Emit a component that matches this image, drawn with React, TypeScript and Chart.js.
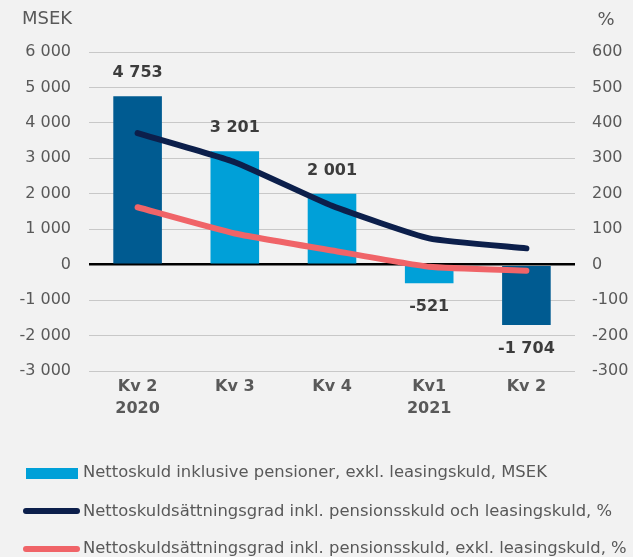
import React, { useEffect, useRef } from "react";
import { Chart, registerables } from "chart.js";

Chart.register(...registerables);

const categories: string[][] = [["Kv 2", "2020"], ["Kv 3"], ["Kv 4"], ["Kv1", "2021"], ["Kv 2"]];
const netDebt: number[] = [4753, 3201, 2001, -521, -1704];
const gearingInclLeasing: number[] = [371, 289, 166, 74, 46];
const gearingExclLeasing: number[] = [162, 88, 40, -6, -17];
const barColors: string[] = ["#005b91", "#00a0d8", "#00a0d8", "#00a0d8", "#005b91"];

const legendLabels: string[] = [
  "Nettoskuld inklusive pensioner, exkl. leasingskuld, MSEK",
  "Nettoskuldsättningsgrad inkl. pensionsskuld och leasingskuld, %",
  "Nettoskuldsättningsgrad inkl. pensionsskuld, exkl. leasingskuld, %",
];

const FONT = "'DejaVu Sans', sans-serif";
const LEGEND_FONT = "'DejaVu Sans', sans-serif";
const TEXT = "#595959";

const fmt = (v: number) => {
  const s = Math.abs(v).toString().replace(/\B(?=(\d{3})+(?!\d))/g, " ");
  return (v < 0 ? "-" : "") + s;
};

export default function App() {
  const ref = useRef<HTMLCanvasElement | null>(null);

  useEffect(() => {
    document.body.style.margin = "0";
    document.body.style.background = "#f2f2f2";
    if (!ref.current) return;

    const extraText = {
      id: "extraText",
      afterDatasetsDraw(chart: any) {
        const ctx = chart.ctx;
        ctx.save();
        const meta = chart.getDatasetMeta(2);
        ctx.font = `bold 16px ${FONT}`;
        ctx.fillStyle = "#3c3c3c";
        ctx.textAlign = "center";
        ctx.textBaseline = "middle";
        meta.data.forEach((el: any, i: number) => {
          const v = netDebt[i];
          const y = v >= 0 ? el.y - 23 : el.y + 24;
          ctx.fillText(fmt(v), el.x, y);
        });
        ctx.font = `18px ${FONT}`;
        ctx.fillStyle = TEXT;
        ctx.textAlign = "left";
        ctx.fillText("MSEK", 22, 19);
        ctx.textAlign = "center";
        ctx.fillText("%", 606, 20);
        ctx.restore();
      },
    };

    const chart = new Chart(ref.current, {
      type: "bar",
      data: {
        labels: categories as any,
        datasets: [
          {
            type: "line",
            label: legendLabels[1],
            data: gearingInclLeasing,
            yAxisID: "y1",
            borderColor: "#0c1f4b",
            borderWidth: 6,
            pointRadius: 0,
            tension: 0.15,
            borderCapStyle: "round",
            borderJoinStyle: "round",
            order: 0,
          } as any,
          {
            type: "line",
            label: legendLabels[2],
            data: gearingExclLeasing,
            yAxisID: "y1",
            borderColor: "#f06468",
            borderWidth: 6,
            pointRadius: 0,
            tension: 0.15,
            borderCapStyle: "round",
            borderJoinStyle: "round",
            order: 0,
          } as any,
          {
            type: "bar",
            label: legendLabels[0],
            data: netDebt,
            yAxisID: "y",
            backgroundColor: barColors,
            categoryPercentage: 1,
            barPercentage: 0.5,
            order: 1,
          } as any,
        ],
      },
      options: {
        responsive: false,
        animation: false,
        layout: { padding: { top: 52, left: 0, right: 0, bottom: 0 }, autoPadding: false } as any,
        plugins: { legend: { display: false }, tooltip: { enabled: false } },
        scales: {
          x: {
            grid: { display: false, drawTicks: false },
            border: { display: false },
            ticks: {
              color: TEXT,
              font: { family: FONT, size: 16, weight: "bold", lineHeight: 1.35 },
              padding: 5,
              maxRotation: 0,
              autoSkip: false,
            },
            afterFit: (s: any) => {
              s.height = 557 - 371;
            },
          },
          y: {
            position: "left",
            min: -3000,
            max: 6000,
            grid: {
              drawTicks: false,
              color: (c: any) => (c.tick && c.tick.value === 0 ? "#000000" : "#c8c8c8"),
              lineWidth: (c: any) => (c.tick && c.tick.value === 0 ? 2.5 : 1),
            },
            border: { display: false },
            ticks: {
              stepSize: 1000,
              color: TEXT,
              padding: 18,
              font: { family: FONT, size: 16 },
              callback: (v: any) => fmt(Number(v)),
            },
            afterFit: (s: any) => {
              s.width = 89;
            },
          },
          y1: {
            position: "right",
            min: -300,
            max: 600,
            grid: { display: false, drawTicks: false },
            border: { display: false },
            ticks: {
              stepSize: 100,
              color: TEXT,
              padding: 17,
              font: { family: FONT, size: 16 },
            },
            afterFit: (s: any) => {
              s.width = 633 - 575;
            },
          },
        },
      } as any,
      plugins: [extraText],
    });
    return () => chart.destroy();
  }, []);

  const legendText: React.CSSProperties = {
    position: "absolute",
    left: 83,
    font: `16.4px ${LEGEND_FONT}`,
    color: TEXT,
    whiteSpace: "nowrap",
    lineHeight: "20px",
  };

  return (
    <div style={{ position: "relative", width: 633, height: 557, background: "#f2f2f2", overflow: "hidden" }}>
      <canvas ref={ref} width={633} height={557} style={{ display: "block" }} />
      <div style={{ position: "absolute", left: 26, top: 468, width: 52, height: 11, background: "#00a0d8" }} />
      <div style={{ ...legendText, top: 462 }}>{legendLabels[0]}</div>
      <div style={{ position: "absolute", left: 23, top: 508, width: 57, height: 6, borderRadius: 3, background: "#0c1f4b" }} />
      <div style={{ ...legendText, top: 501 }}>{legendLabels[1]}</div>
      <div style={{ position: "absolute", left: 23, top: 546, width: 57, height: 6, borderRadius: 3, background: "#f06468" }} />
      <div style={{ ...legendText, top: 538 }}>{legendLabels[2]}</div>
    </div>
  );
}
